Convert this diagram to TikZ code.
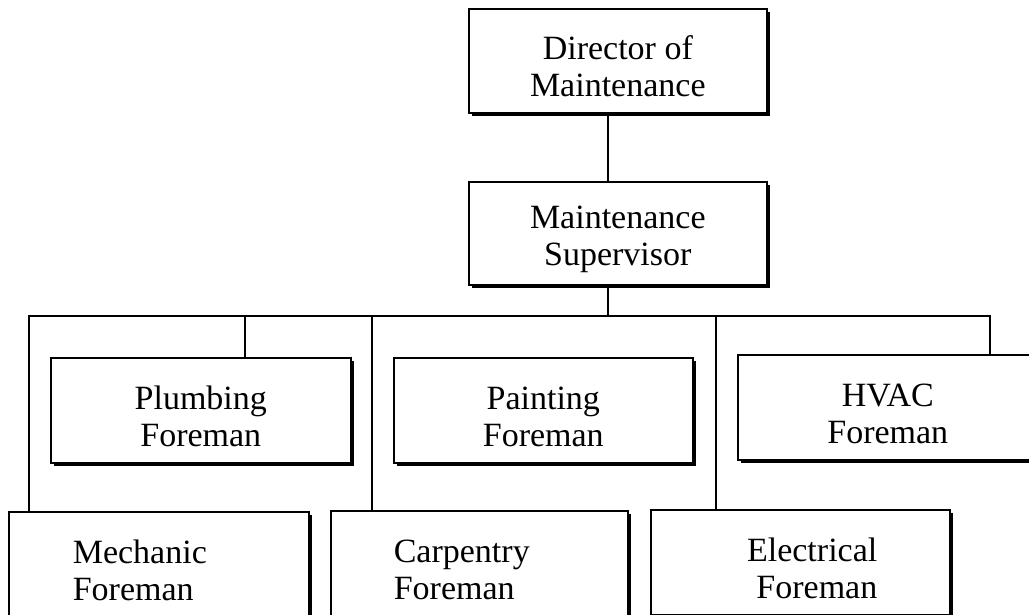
\documentclass[tikz,border=0pt]{standalone}
\usepackage{fontspec}
\setmainfont{Liberation Serif}
\usetikzlibrary{shadows}
\newcommand{\topgap}{\rule{0pt}{35pt}}

\begin{document}
\begin{tikzpicture}[x=1pt,y=-1pt,
   box/.style={draw,fill=white,line width=1.6pt,anchor=north west,
     minimum width=300pt,minimum height=105pt,inner sep=0pt,align=center,
     font=\fontsize{34}{37}\selectfont,
     drop shadow={shadow xshift=3pt,shadow yshift=-3pt,fill=black,opacity=1}},
   link/.style={line width=1.3pt}]
\useasboundingbox (0,0) rectangle (1029,614);
\clip (0,0) rectangle (1029,614);
% top of the chart
\node[box,minimum width=298pt,minimum height=104pt] (dir) at (468,8) {\topgap Director of\\Maintenance};
\node[box,minimum width=298pt,minimum height=103pt] (sup) at (468,181) {\topgap Maintenance\\Supervisor};
% upper row
\node[box] (plumb) at (50,357) {\topgap Plumbing\\Foreman};
\node[box,minimum width=299pt] (paint) at (393,357) {\topgap Painting\\Foreman};
\node[box] (hvac) at (737,354) {\topgap HVAC\\Foreman};
% lower row
\node[box,text width=172pt,align=left] (mech) at (8,511) {\topgap Mechanic\\Foreman};
\node[box,minimum width=297pt,text width=171pt,align=left] (carp) at (330,510) {\topgap Carpentry\\Foreman};
\node[box,minimum width=299pt,text width=154pt,align=right] (elec) at (650,509) {\topgap Electrical\\Foreman};
% taps on the bus
\coordinate (tMech) at (29,316);
\coordinate (tPlumb) at (245,316);
\coordinate (tCarp) at (372,316);
\coordinate (tSup) at (608,316);
\coordinate (tElec) at (716,316);
\coordinate (tHvac) at (990,316);
\draw[link] (dir.south -| tSup) -- (sup.north -| tSup);
\draw[link] (sup.south -| tSup) -- (tSup);
\draw[link] (mech.north -| tMech) |- (tHvac) -- (hvac.north -| tHvac);
\foreach \t/\b in {tPlumb/plumb,tCarp/carp,tElec/elec}
  \draw[link] (\t) -- (\b.north -| \t);
\end{tikzpicture}
\end{document}
